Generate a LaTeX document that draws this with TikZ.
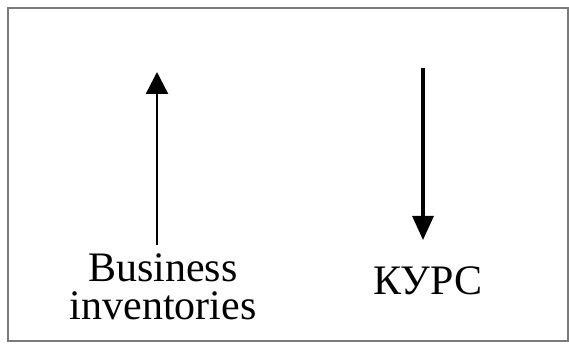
\documentclass[tikz,border=0pt]{standalone}
\usepackage{fontspec}
\setmainfont{Liberation Serif}
\usepackage{tikz}
\usetikzlibrary{arrows.meta}
\usepackage{xcolor}
\definecolor{framegray}{HTML}{7a7a7a}

\begin{document}
\begin{tikzpicture}[x=1pt,y=1pt,
    lbl/.style={inner sep=0pt, font=\fontsize{42}{38}\selectfont, align=center},
    uparr/.style={line width=2.4pt, -{Triangle[length=22pt,width=22pt]}},
    dnarr/.style={line width=3.2pt, -{Triangle[length=24pt,width=21pt]}}]
  \useasboundingbox (0,0) rectangle (569,344);
  % frame
  \draw[framegray, line width=2pt] (7.5,2.5) rectangle (568,336);
  % labels
  \node[lbl, anchor=north] (biz) at (163,91) {Business\\inventories};
  \node[lbl, anchor=base] (kurs) at (428,49) {КУРС};
  % arrows
  \coordinate (upstart) at (157,99);
  \coordinate (uptip) at (157,272);
  \coordinate (dntop) at (423,276);
  \coordinate (dntip) at (423,104);
  \draw[uparr] (upstart) -- (uptip);
  \draw[dnarr] (dntop) -- (dntip);
\end{tikzpicture}
\end{document}
